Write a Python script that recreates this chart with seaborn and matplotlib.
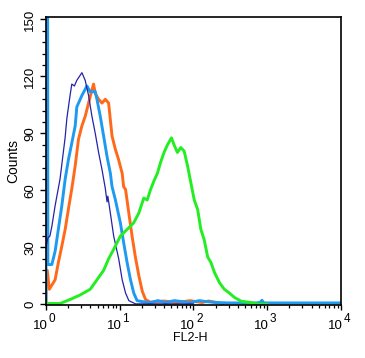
import numpy as np
import pandas as pd
import matplotlib
matplotlib.use('Agg')
import matplotlib.pyplot as plt
import seaborn as sns
from matplotlib.ticker import FixedLocator, LogLocator, MultipleLocator, NullFormatter

# FL2-H channel (x) and counts (y)
navy_x = [1.0, 1.06, 1.13, 1.2, 1.33, 1.55, 1.82, 1.92, 2.12, 2.24, 2.43, 2.62, 3.07,
          3.40, 3.78, 4.2, 4.66, 5.17, 5.75, 6.38, 6.73, 6.9, 7.47, 8.28, 9.69,
          10.8, 12.0, 13.3, 16.4, 30, 100]
navy_y = [30, 35, 36, 41, 52, 66, 88, 98, 110, 116, 115, 118, 122,
          118, 110, 99, 90, 80, 71, 61, 54, 57, 48, 36, 24,
          13, 6, 2, 0.3, 0.3, 0.3]

blue_x = [1.0, 1.0, 1.04, 1.06, 1.2, 1.33, 1.47, 1.64, 1.82, 2.01, 2.24, 2.49, 2.62,
          3.07, 3.59, 3.98, 4.66, 4.91, 5.45, 6.05, 6.72, 7.47, 7.87, 8.74, 10.2,
          11.3, 12.6, 14.0, 15.5, 17.2, 20, 26, 33, 42, 55, 70, 90, 120, 150,
          200, 300, 500, 700, 800, 850, 900, 1000, 10000]
blue_y = [0, 400, 400, 21, 21, 28, 39.5, 52, 66, 76, 85, 94, 104,
          110, 115, 112, 112, 108, 99, 88.6, 78, 69, 62, 55, 43,
          32.6, 22, 13, 6, 2, 1.5, 1.0, 2.0, 1.0, 2.0, 1.5, 1.0, 2.0, 1.5,
          1.0, 0.8, 0.8, 0.8, 1.0, 2.2, 0.8, 0.8, 0.8]

orange_x = [1.0, 1.0, 1.04, 1.11, 1.33, 1.47, 1.64, 1.82, 2.01, 2.24, 2.49, 2.76,
            3.07, 3.40, 3.78, 4.2, 4.42, 4.66, 5.17, 5.75, 6.38, 7.07, 7.47, 7.87,
            8.74, 9.69, 10.8, 11.3, 12.0, 13.3, 14.7, 16.3, 18.2, 20.2, 22.4, 26,
            40, 60, 90, 130, 160, 250]
orange_y = [0, 18, 18, 8, 13, 22, 30.7, 39.5, 50, 61, 73, 87,
            94, 99, 106, 113, 116, 111, 108, 106, 108, 106, 97, 88.6,
            81.6, 76, 69, 62, 60.5, 48, 36, 25, 15, 7, 2.6, 1.2,
            1.8, 1.0, 2.0, 1.0, 1.8, 0.5]

green_x = [1.0, 1.55, 2.12, 2.91, 3.98, 4.92, 6.06, 7.06, 8.28, 10.2, 12.6, 15.5,
           18.1, 21.2, 23.6, 26.2, 29.1, 32.4, 36.0, 39.9, 44.4, 50.3, 54.6, 60.6,
           67.3, 74.8, 83.1, 92.3, 102.5, 114, 126, 140, 156, 173, 192, 225, 262,
           307, 360, 444, 606, 710, 1000]
green_y = [0.5, 0.5, 2.6, 5, 8, 13, 18, 24, 29, 36, 39.5, 43,
           48, 56, 55, 60.5, 65, 69, 75, 80, 84, 87.7, 84, 80,
           82.6, 80.7, 73, 64, 55, 50, 39.5, 34, 25, 22, 17, 11.5, 8,
           6, 3.7, 1.7, 1.0, 0.3, 0]

decades = [0, 1, 2, 3, 4]

series = [
    ('orange', orange_x, orange_y, '#ff6a1a', 2.1),
    ('blue', blue_x, blue_y, '#1e9af0', 2.1),
    ('navy', navy_x, navy_y, '#2424aa', 0.9),
    ('green', green_x, green_y, '#22ee22', 2.1),
]

plt.rcParams['font.family'] = ['Liberation Sans', 'DejaVu Sans']

fig = plt.figure(figsize=(3.65, 3.58), dpi=100)
ax = fig.add_axes([0.126, 0.148, 0.808, 0.805])

for name, xs, ys, col, lw in series:
    df = pd.DataFrame({'FL2-H': xs, 'Counts': ys})
    sns.lineplot(data=df, x='FL2-H', y='Counts', color=col, lw=lw,
                 estimator=None, sort=False, ax=ax)

ax.set_xscale('log')
ax.set_xlim(1, 10000)
ax.set_ylim(-0.3, 151.4)

ax.xaxis.set_major_locator(FixedLocator([10 ** k for k in decades]))
ax.set_xticklabels([''] * len(decades))
ax.xaxis.set_minor_locator(LogLocator(base=10, subs=np.arange(2, 10), numticks=20))
ax.xaxis.set_minor_formatter(NullFormatter())

# "10" with a large exponent, as in the reference
for k in decades:
    ax.annotate('10', xy=(10 ** k, 0), xycoords=('data', 'axes fraction'),
                xytext=(1.2, -10.5), textcoords='offset points',
                ha='right', va='top', fontsize=9.5)
    ax.annotate(str(k), xy=(10 ** k, 0), xycoords=('data', 'axes fraction'),
                xytext=(1.8, -5.5), textcoords='offset points',
                ha='left', va='top', fontsize=8.5)

ax.yaxis.set_major_locator(MultipleLocator(30))
ax.yaxis.set_minor_locator(MultipleLocator(6))
for lab in ax.get_yticklabels():
    lab.set_rotation(90)
    lab.set_va('center')

ax.tick_params(axis='x', which='major', direction='out', length=3.5, width=1)
ax.tick_params(axis='x', which='minor', direction='out', length=2, width=0.9)
ax.tick_params(axis='y', which='major', direction='out', length=4, width=1, labelsize=9.5, pad=3)
ax.tick_params(axis='y', which='minor', direction='out', length=3, width=0.9)

for sp in ax.spines.values():
    sp.set_linewidth(1.2)
    sp.set_color('black')

ax.set_xlabel('')
ax.text(0.488, -0.115, 'FL2-H', transform=ax.transAxes, ha='center', va='center', fontsize=9)
ax.set_ylabel('Counts', fontsize=10, labelpad=3)

fig.savefig('out.png', dpi=100)
